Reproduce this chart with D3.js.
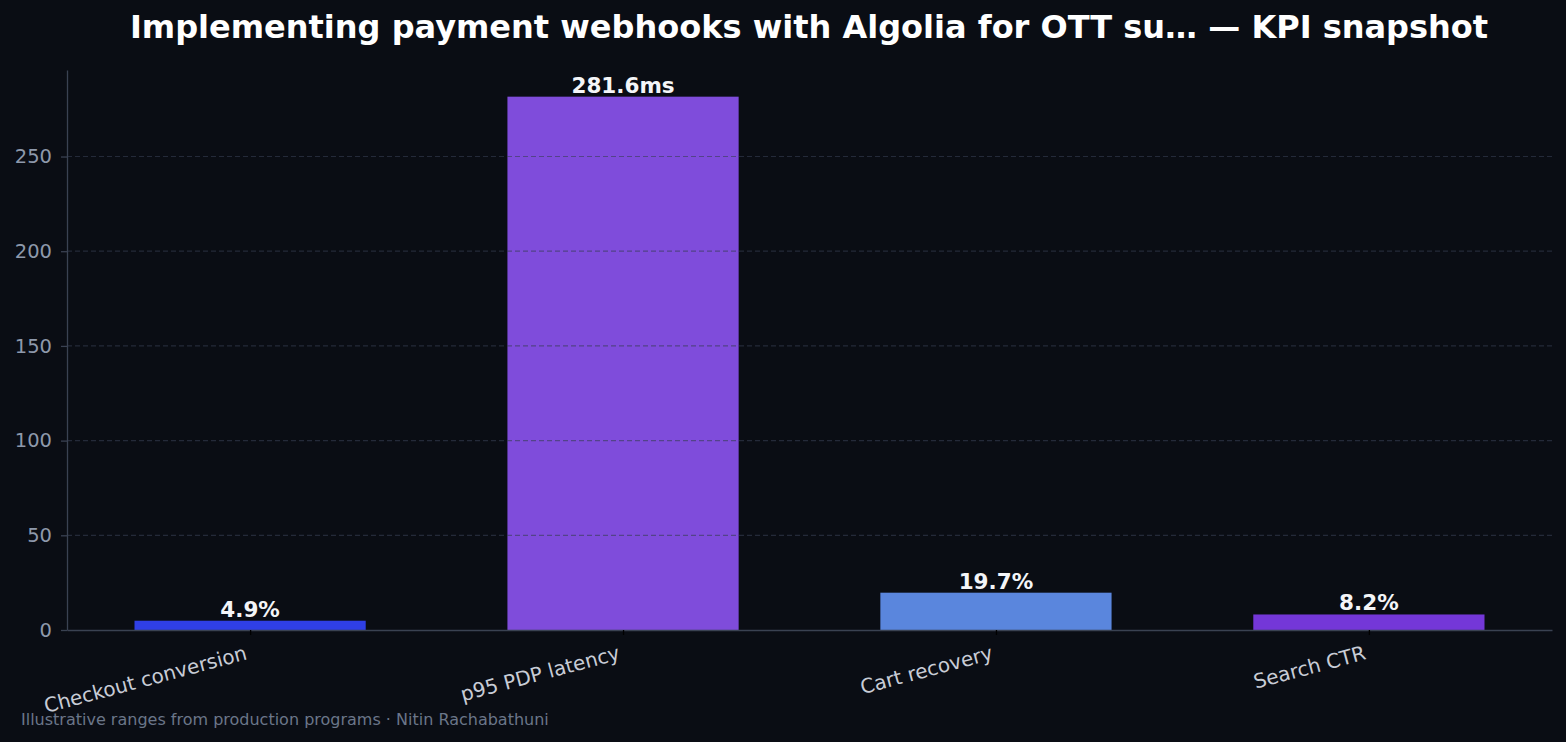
<!DOCTYPE html>
<html>
<head>
<meta charset="utf-8">
<script src="https://cdn.jsdelivr.net/npm/d3@7"></script>
<style>
  body { margin: 0; background: #0a0d14; }
  svg { display: block; font-family: "DejaVu Sans", sans-serif; }
</style>
</head>
<body>
<div id="chart"></div>
<script>
// chart data
const categories = ["Checkout conversion", "p95 PDP latency", "Cart recovery", "Search CTR"];
const values = [4.9, 281.6, 19.7, 8.2];
const valueLabels = ["4.9%", "281.6ms", "19.7%", "8.2%"];
const barColors = ["#2f3fe6", "#7f4cdb", "#5a86dd", "#7437d8"];
const yTicks = [0, 50, 100, 150, 200, 250];

const width = 1566, height = 742;
const margin = {top: 70, right: 14, bottom: 112, left: 67};
const innerW = width - margin.left - margin.right;
const innerH = height - margin.top - margin.bottom;

const svg = d3.select("#chart").append("svg")
    .attr("width", width)
    .attr("height", height);

svg.append("rect").attr("width", width).attr("height", height).attr("fill", "#0a0d14");

const g = svg.append("g").attr("transform", `translate(${margin.left},${margin.top})`);

// x: matplotlib-like positions, bar width 0.62 of step, 5% margins
const barW = 0.62;
const lo = -barW / 2, hi = categories.length - 1 + barW / 2;
const pad = (hi - lo) * 0.05;
const x = d3.scaleLinear().domain([lo - pad, hi + pad]).range([0, innerW]);
const y = d3.scaleLinear().domain([0, d3.max(values) * 1.05]).range([innerH, 0]);

// bars
g.selectAll(".bar")
    .data(values)
    .enter().append("rect")
    .attr("class", "bar")
    .attr("x", (d, i) => x(i - barW / 2))
    .attr("width", x(barW) - x(0))
    .attr("y", d => y(d))
    .attr("height", d => innerH - y(d))
    .attr("fill", (d, i) => barColors[i]);

// grid over bars
g.selectAll(".grid")
    .data(yTicks.filter(t => t > 0))
    .enter().append("line")
    .attr("x1", 0).attr("x2", innerW)
    .attr("y1", d => y(d)).attr("y2", d => y(d))
    .attr("stroke", "#363e52")
    .attr("stroke-opacity", 0.6)
    .attr("stroke-dasharray", "5,3")
    .attr("stroke-width", 1.2);

// value labels
g.selectAll(".val")
    .data(values)
    .enter().append("text")
    .attr("x", (d, i) => x(i))
    .attr("y", d => y(d) - 4)
    .attr("text-anchor", "middle")
    .attr("fill", "#f4f5f8")
    .attr("font-size", 21.5)
    .attr("font-weight", "bold")
    .text((d, i) => valueLabels[i]);

// y axis
const yAxis = g.append("g")
    .call(d3.axisLeft(y).tickValues(yTicks).tickSize(6).tickSizeOuter(0).tickPadding(9));
yAxis.select(".domain").attr("stroke", "#3a4252").attr("stroke-width", 1.3);
yAxis.selectAll(".tick line").attr("stroke", "#3a4252").attr("stroke-width", 1.3);
yAxis.selectAll(".tick text").attr("fill", "#8e99ab").attr("font-size", 19.5)
    .attr("font-family", "DejaVu Sans, sans-serif");

// x axis
const xAxis = g.append("g")
    .attr("transform", `translate(0,${innerH})`)
    .call(d3.axisBottom(x).tickValues(d3.range(categories.length)).tickSize(5).tickSizeOuter(0).tickFormat(""));
xAxis.select(".domain").attr("stroke", "#3a4252").attr("stroke-width", 1.3);
xAxis.selectAll(".tick line").attr("stroke", "#000").attr("stroke-width", 1.3);

g.selectAll(".xlab")
    .data(categories)
    .enter().append("text")
    .attr("transform", (d, i) => `translate(${x(i) - 2},${innerH + 29}) rotate(-15)`)
    .attr("text-anchor", "end")
    .attr("fill", "#c8ccd6")
    .attr("font-size", 20)
    .text(d => d);

// title
svg.append("text")
    .attr("x", 809)
    .attr("y", 38)
    .attr("text-anchor", "middle")
    .attr("fill", "#ffffff")
    .attr("font-size", 32)
    .attr("font-weight", "bold")
    .text("Implementing payment webhooks with Algolia for OTT su… — KPI snapshot");

// footer
svg.append("text")
    .attr("x", 21)
    .attr("y", 725)
    .attr("fill", "#6b7689")
    .attr("font-size", 16)
    .text("Illustrative ranges from production programs · Nitin Rachabathuni");
</script>
</body>
</html>
